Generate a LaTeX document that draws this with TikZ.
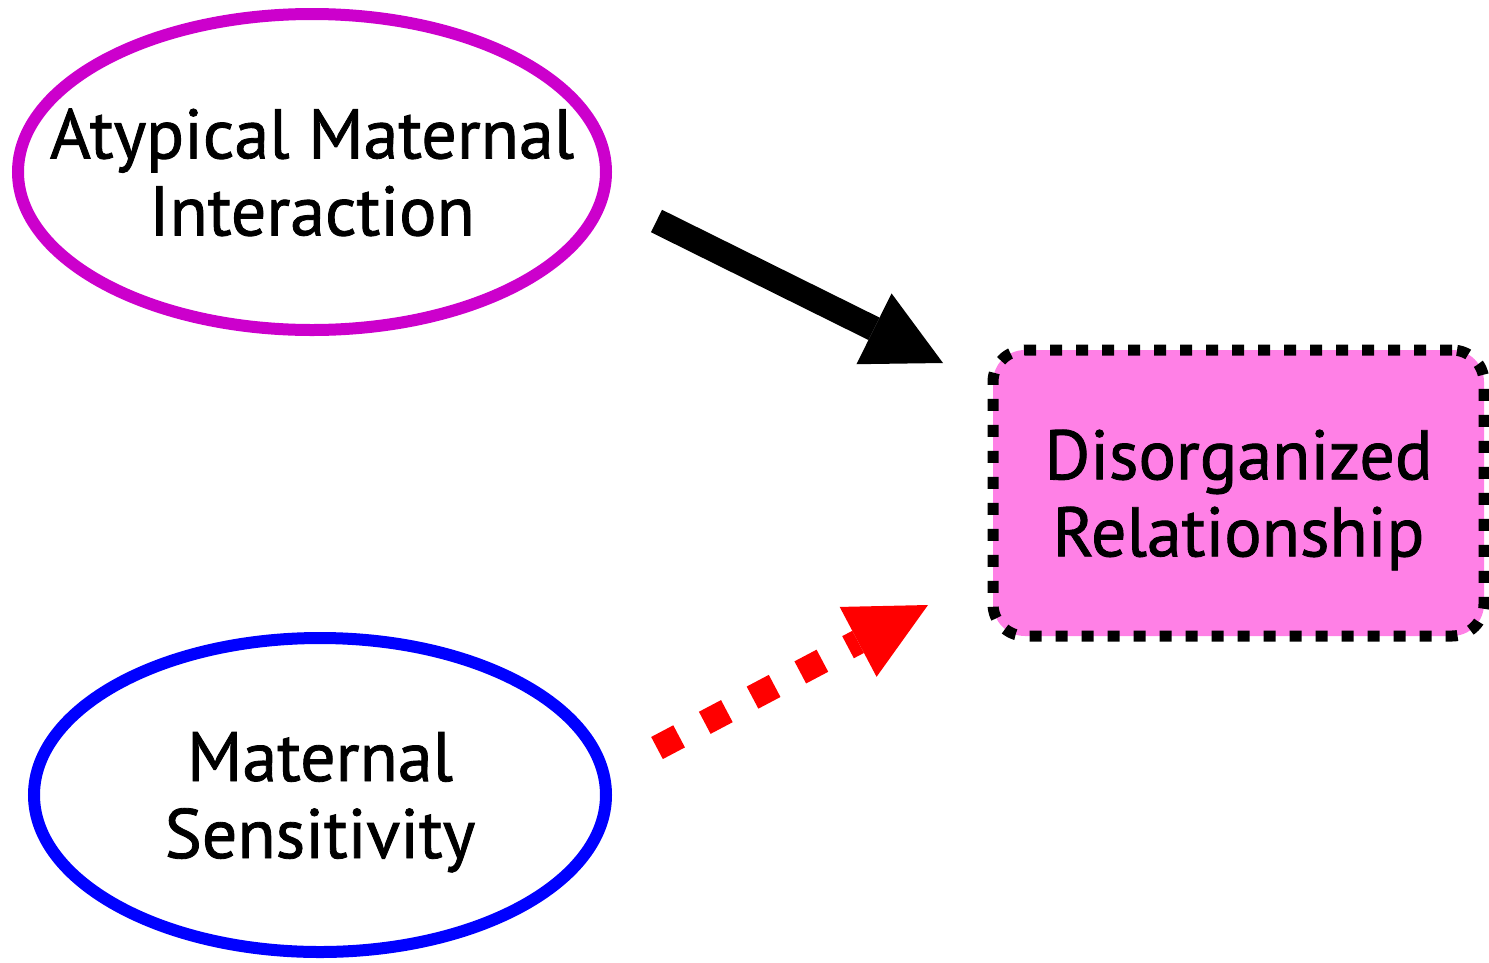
\documentclass[tikz,border=0pt]{standalone}
\usepackage{fontspec}
\setmainfont{PT Sans}
\usetikzlibrary{shapes.geometric, arrows.meta, positioning}
\definecolor{atypmag}{RGB}{204,0,204}
\definecolor{relpink}{RGB}{255,128,230}
\newcommand{\labfont}{\fontsize{70}{77}\selectfont\addfontfeature{FakeBold=1.2}}
\tikzstyle{oval} = [ellipse, line width=12pt, fill=white, inner xsep=-60pt, text depth=0pt, align=center, font=\labfont]
\tikzstyle{target} = [rectangle, rounded corners=32pt, minimum width=491pt, minimum height=286pt, text depth=0pt, align=center, draw=black, fill=relpink, line width=11pt, dash pattern=on 12pt off 14pt, font=\labfont]
\tikzstyle{arrow} = [line width=25pt, -{Triangle[length=77pt, width=79pt, line width=0pt]}]
\tikzstyle{dotarrow} = [arrow, red, dash pattern=on 25pt off 29pt, -{Triangle[length=79pt, width=79pt, line width=0pt]}]

\begin{document}
\begin{tikzpicture}[x=1pt, y=-1pt, node distance=623pt]
    \useasboundingbox (0,0) rectangle (1489,962);

    \node (atyp) [oval, draw=atypmag, minimum width=588pt, minimum height=316pt] at (312,172) {Atypical Maternal\\Interaction};
    \node (sens) [oval, draw=blue, minimum width=572pt, minimum height=314pt, below of=atyp, xshift=8pt] {Maternal\\Sensitivity};
    \node (disorg) [target, right of=atyp, xshift=303.5pt, yshift=-321pt] {Disorganized\\Relationship};

    \coordinate (atypout) at (656.5,221);
    \coordinate (disorgin1) at (943,363);
    \coordinate (sensout) at (657,748);
    \coordinate (disorgin2) at (928,605);

    \draw [arrow] (atypout) -- (disorgin1);
    \draw [dotarrow] (sensout) -- (disorgin2);

\end{tikzpicture}
\end{document}
